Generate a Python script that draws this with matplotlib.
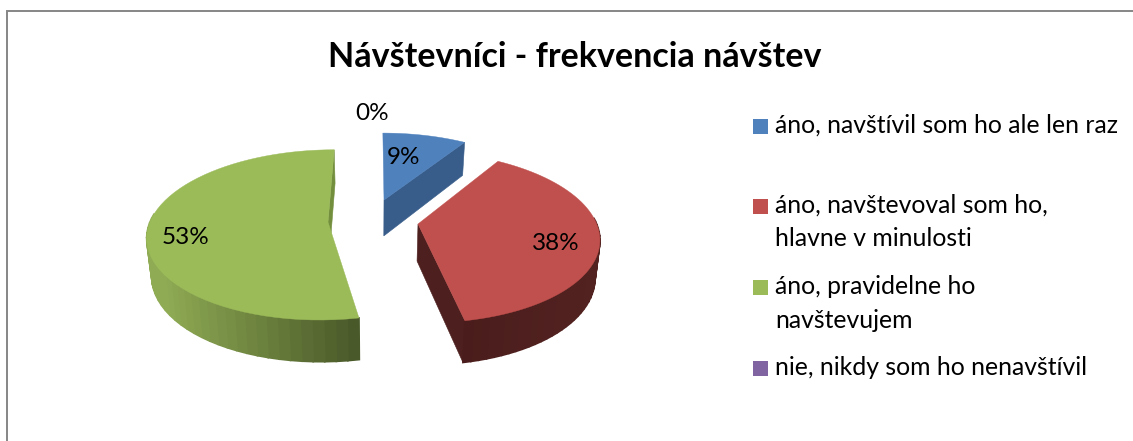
import matplotlib
matplotlib.use('Agg')
import matplotlib.pyplot as plt
import numpy as np

labels = ['áno, navštívil som ho ale len raz',
          'áno, navštevoval som ho,\nhlavne v minulosti',
          'áno, pravidelne ho\nnavštevujem',
          'nie, nikdy som ho nenavštívil']
values = [9, 38, 53, 0]
colors = ['#4F81BD', '#C0504D', '#9BBB59', '#8064A2']
title = 'Návštevníci - frekvencia návštev'

# layout, all in picture pixels
apex_px = [(384, 200), (418, 224), (328, 222)]
label_px = [(404, 157), (556, 243), (185.5, 237), (372.5, 113)]
legend_box_y = [119, 199, 280, 361]
legend_base_y = [133, 213, 294, 375]
line_step = 33.5
rx, ry = 180, 85
xc, yc, k = 375, 228, 0.0018
thick = 37.3

plt.rcParams['font.family'] = ['Lato', 'DejaVu Sans']

fig = plt.figure(figsize=(11.33, 4.41), dpi=100)
ax = fig.add_axes([0, 0, 1, 1])
ax.set_xlim(0, 1133)
ax.set_ylim(441, 0)
ax.axis('off')


def to_plane(px, py):
    p = yc - py
    v = p / (1 - k * p)
    s = 1 / (1 + k * v)
    return (px - xc) / s, v


def project(x, v):
    s = 1 / (1 + k * v)
    return xc + x * s, yc - v * s, s


def bottom(x, v):
    px, py, s = project(x, v)
    return xc + (px - xc) * 0.978, py + thick * s ** 0.73


def mix(c1, c2, t):
    c1, c2 = np.array(matplotlib.colors.to_rgb(c1)), np.array(matplotlib.colors.to_rgb(c2))
    return tuple(c1 + (c2 - c1) * t)


def side_color(i, px):
    if i == 2:
        return mix('#8FAB54', '#4A5929', np.clip((px - 165) / 195, 0, 1))
    if i == 1:
        return mix('#4A1D1C', '#522220', np.clip((px - 465) / 135, 0, 1))
    return '#385D8A'


def quad(p1, p2, p3, p4, color, z, lw=0.4):
    ax.fill([p1[0], p2[0], p3[0], p4[0]], [p1[1], p2[1], p3[1], p4[1]],
            color=color, lw=lw, zorder=z)


start = np.cumsum([0] + values[:-1]) * 3.6
order = [2, 0, 1]
cut_colors = {0: '#385D8A', 1: '#4D201F', 2: '#738F3E'}
for n, i in enumerate(order):
    ang = np.radians(np.linspace(start[i], start[i] + values[i] * 3.6, 60))
    ax_x, ax_v = to_plane(*apex_px[i])
    xs = ax_x + rx * np.sin(ang)
    vs = ax_v + ry * np.cos(ang)
    z = 2 + n * 3
    # cut face at the end angle, the only one that shows
    top1 = project(ax_x, ax_v)[:2]
    top2 = project(xs[-1], vs[-1])[:2]
    quad(top1, top2, bottom(xs[-1], vs[-1]), bottom(ax_x, ax_v), cut_colors[i], z)
    # rim
    for a in range(len(ang) - 1):
        t1 = project(xs[a], vs[a])[:2]
        t2 = project(xs[a + 1], vs[a + 1])[:2]
        if np.cos(ang[a]) > 0.1:
            continue
        quad(t1, t2, bottom(xs[a + 1], vs[a + 1]), bottom(xs[a], vs[a]),
             side_color(i, t1[0]), z, lw=1.2)
    # top surface
    px, py, s = project(np.r_[ax_x, xs], np.r_[ax_v, vs])
    ax.fill(px, py, color=colors[i], lw=0.3, zorder=z + 1)

for i, v in enumerate(values):
    ax.text(label_px[i][0], label_px[i][1], f'{v}%', fontsize=17.5, color='black',
            ha='center', va='center', zorder=20)

ax.text(575, 57, title, fontsize=24.5, fontweight='bold', ha='center', va='center', color='black')

for i, lab in enumerate(labels):
    ax.add_patch(plt.Rectangle((753, legend_box_y[i]), 15, 15, color=colors[i], lw=0))
    for n, line in enumerate(lab.split('\n')):
        ax.text(775, legend_base_y[i] + n * line_step, line, fontsize=17.8,
                ha='left', va='baseline', color='black')

ax.plot([6.5, 6.5, 1133], [441, 10.5, 10.5], color='#868686', lw=1.4, solid_joinstyle='miter')

fig.savefig('out.png', dpi=100, facecolor='white')
